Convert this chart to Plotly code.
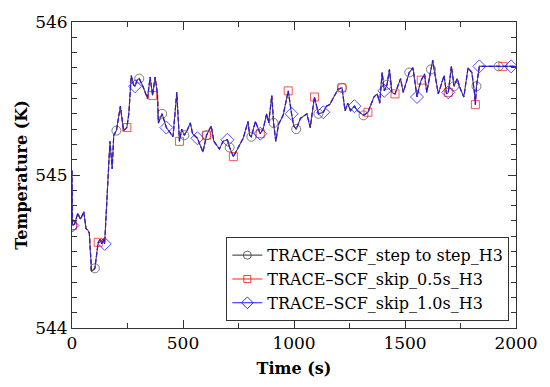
import plotly.graph_objects as go

# Coolant temperature history (s, K)
time_s = [
    0, 2, 12, 26, 38, 53, 63, 71, 78, 88, 103, 118, 127, 134, 141, 147,
    171, 181, 188, 200, 218, 232, 247, 256, 267, 277, 284, 293, 303, 322,
    340, 352, 363, 374, 385, 389, 406, 418, 425, 440, 455, 472, 484, 494,
    506, 518, 533, 543, 565, 590, 606, 627, 639, 664, 680, 700, 710, 727,
    749, 771, 793, 800, 808, 826, 848, 861, 877, 886, 900, 908, 918, 930,
    951, 974, 989, 999, 1010, 1029, 1058, 1073, 1092, 1110, 1132, 1146,
    1161, 1171, 1183, 1198, 1216, 1230, 1242, 1254, 1272, 1286, 1313, 1333,
    1360, 1375, 1386, 1397, 1407, 1419, 1430, 1441, 1455, 1480, 1492, 1519,
    1536, 1554, 1563, 1573, 1588, 1598, 1617, 1625, 1637, 1650, 1676, 1687,
    1695, 1709, 1721, 1735, 1750, 1765, 1784, 1801, 1812, 1817, 1822, 1835,
    1922, 1941, 1978, 2000,
]
temp_k = [
    545.03, 544.67, 544.68, 544.75, 544.71, 544.76, 544.65, 544.64, 544.62,
    544.37, 544.39, 544.56, 544.58, 544.55, 544.58, 544.55,
    545.22, 545.04, 545.26, 545.29, 545.45, 545.29, 545.31, 545.40, 545.65,
    545.59, 545.58, 545.62, 545.63, 545.57,
    545.50, 545.64, 545.52, 545.64, 545.53, 545.34, 545.40, 545.35, 545.31,
    545.28, 545.25, 545.54, 545.22, 545.30,
    545.26, 545.29, 545.34, 545.27, 545.24, 545.15, 545.26, 545.32, 545.22,
    545.17, 545.22, 545.23, 545.18, 545.12,
    545.18, 545.24, 545.35, 545.26, 545.25, 545.35, 545.27, 545.30, 545.40,
    545.34, 545.52, 545.34, 545.22, 545.33,
    545.39, 545.55, 545.40, 545.32, 545.30, 545.37, 545.40, 545.31, 545.51,
    545.40, 545.41, 545.45,
    545.46, 545.49, 545.52, 545.56, 545.57, 545.42, 545.47, 545.42, 545.45,
    545.42, 545.39, 545.41,
    545.51, 545.53, 545.47, 545.67, 545.55, 545.59, 545.69, 545.54, 545.53,
    545.63, 545.54, 545.67,
    545.70, 545.51, 545.57, 545.62, 545.66, 545.54, 545.69, 545.75, 545.64,
    545.53, 545.65, 545.53,
    545.54, 545.71, 545.58, 545.63, 545.56, 545.51, 545.70, 545.67, 545.55,
    545.46, 545.58, 545.71,
    545.71, 545.71, 545.71, 545.71,
]

series_names = [
    "TRACE\u2013SCF_step to step_H3",
    "TRACE\u2013SCF_skip_0.5s_H3",
    "TRACE\u2013SCF_skip_1.0s_H3",
]
# Times at which each curve carries a symbol
marks_step = [2, 103, 200, 303, 406, 506, 606, 710, 808, 908, 1010, 1110,
              1216, 1313, 1419, 1519, 1617, 1721, 1822, 1922]
marks_skip05 = [2, 118, 247, 363, 484, 606, 727, 848, 974, 1092, 1216, 1333,
                1455, 1573, 1695, 1817, 1941]
marks_skip10 = [2, 147, 284, 425, 565, 700, 848, 989, 1132, 1272, 1407, 1554,
                1695, 1835, 1978]

x_ticks = [0, 500, 1000, 1500, 2000]
y_ticks = [544, 545, 546]

styles = [
    dict(color="#555555", symbol="circle-open", size=9, dash="solid", marks=marks_step),
    dict(color="#ff2020", symbol="square-open", size=8, dash="4px,3px", marks=marks_skip05),
    dict(color="#1a1aff", symbol="diamond-open", size=10, dash="5px,2px", marks=marks_skip10),
]

lookup = dict(zip(time_s, temp_k))
fig = go.Figure()
for name, st in zip(series_names, styles):
    # full curve
    fig.add_trace(go.Scatter(
        x=time_s, y=temp_k, mode="lines", showlegend=False,
        line=dict(color=st["color"], width=1.1, dash=st["dash"]),
        hoverinfo="skip",
    ))
    # symbols at sampled times
    mx = st["marks"]
    fig.add_trace(go.Scatter(
        x=mx, y=[lookup[t] for t in mx], mode="markers", showlegend=False,
        marker=dict(symbol=st["symbol"], size=st["size"], opacity=0.85,
                    color=st["color"], line=dict(color=st["color"], width=0.9)),
    ))
    # legend entry
    fig.add_trace(go.Scatter(
        x=[None], y=[None], mode="lines+markers", name=name,
        line=dict(color=st["color"], width=1.1),
        marker=dict(symbol=st["symbol"], size=st["size"] - 1,
                    color=st["color"], line=dict(color=st["color"], width=0.9)),
    ))

axis_common = dict(
    showline=True, linecolor="#333333", linewidth=1, mirror="ticks",
    ticks="inside", ticklen=8, tickcolor="#333333", showgrid=False,
    zeroline=False,
    tickfont=dict(family="DejaVu Serif", size=17, color="black"),
)

fig.update_layout(
    width=550, height=387,
    margin=dict(l=72, r=25, t=13, b=58),
    paper_bgcolor="white", plot_bgcolor="white",
    xaxis=dict(
        range=[0, 2000], tickvals=x_ticks, ticktext=[str(v) for v in x_ticks],
        minor=dict(dtick=250, tick0=0, ticks="inside", ticklen=5, tickcolor="#333333"),
        title=dict(text="<b>Time (s)</b>", standoff=10,
                   font=dict(family="DejaVu Serif", size=16, color="black")),
        **axis_common,
    ),
    yaxis=dict(
        range=[544, 546], tickvals=y_ticks, ticktext=[str(v) for v in y_ticks],
        minor=dict(dtick=0.1, tick0=544, ticks="inside", ticklen=5, tickcolor="#333333"),
        title=dict(text="<b>Temperature (K)</b>", standoff=3,
                   font=dict(family="DejaVu Serif", size=16, color="black")),
        **axis_common,
    ),
    legend=dict(
        x=0.985, y=0.022, xanchor="right", yanchor="bottom",
        bgcolor="white", bordercolor="#333333", borderwidth=1,
        font=dict(family="DejaVu Serif", size=16, color="black"),
        tracegroupgap=0, itemwidth=30,
    ),
)

fig.write_html("out.html")
